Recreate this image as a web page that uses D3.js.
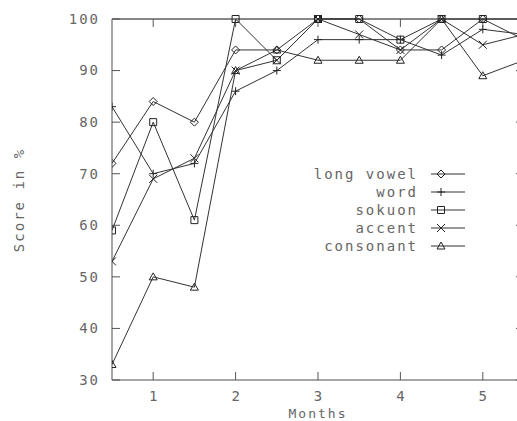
<!DOCTYPE html>
<html lang="en">
<head>
<meta charset="UTF-8">
<title>Score in % by month</title>
<script src="https://d3js.org/d3.v7.min.js"></script>
<style>
  body { margin: 0; background: #fff; }
  svg text { font-family: "DejaVu Sans Mono", monospace; font-size: 14px; fill: #666; letter-spacing: 2px; }
</style>
</head>
<body>
<div id="chart"></div>
<script>
// months (measured every half month)
var months = [0.5, 1, 1.5, 2, 2.5, 3, 3.5, 4, 4.5, 5, 5.5];

// scores per category, in %
var longVowel = [72, 84, 80, 94, 94, 100, 100, 94, 94, 100, 100];
var word      = [83, 70, 72, 86, 90, 96, 96, 96, 93, 98, 97];
var sokuon    = [59, 80, 61, 100, 92, 100, 100, 96, 100, 100, 96];
var accent    = [53, 69, 73, 90, 92, 100, 97, 94, 100, 95, 97];
var consonant = [33, 50, 48, 90, 94, 92, 92, 92, 100, 89, 92];

var seriesNames = ["long vowel", "word", "sokuon", "accent", "consonant"];
var seriesValues = [longVowel, word, sokuon, accent, consonant];
var markerTypes = ["diamond", "plus", "square", "cross", "triangle"];

var xTicks = [1, 2, 3, 4, 5];
var yTicks = [30, 40, 50, 60, 70, 80, 90, 100];

// dimensions (plot runs past the right edge of the window, like the original)
var width = 517, height = 421;
var margin = {top: 19, left: 112, bottom: 41};
var plotRight = 524;

var svg = d3.select("#chart")
  .append("svg")
    .attr("width", width)
    .attr("height", height);

var x = d3.scaleLinear().domain([0.5, 5.5]).range([margin.left, plotRight]);
var y = d3.scaleLinear().domain([30, 100]).range([height - margin.bottom, margin.top]);
var y0 = y(30), y1 = y(100);

svg.append("defs").append("clipPath").attr("id", "plotclip")
  .append("rect")
    .attr("x", margin.left).attr("y", y1 - 6)
    .attr("width", plotRight - margin.left).attr("height", y0 - y1 + 12);

// borders: left & bottom gray, top & right dark
svg.append("line").attr("x1", x(0.5)).attr("x2", plotRight).attr("y1", y1).attr("y2", y1)
  .attr("stroke", "#111").attr("stroke-width", 1);
svg.append("line").attr("x1", plotRight).attr("x2", plotRight).attr("y1", y1).attr("y2", y0)
  .attr("stroke", "#111").attr("stroke-width", 1);
svg.append("line").attr("x1", x(0.5)).attr("x2", x(0.5)).attr("y1", y1).attr("y2", y0)
  .attr("stroke", "#888").attr("stroke-width", 1.5);
svg.append("line").attr("x1", x(0.5)).attr("x2", plotRight).attr("y1", y0).attr("y2", y0)
  .attr("stroke", "#888").attr("stroke-width", 1.5);

// ticks (mirrored on top and right, pointing inward)
var tickLen = 8;
svg.selectAll(".xtick").data(xTicks).enter().append("path")
  .attr("d", function(d) {
    return "M" + x(d) + "," + y0 + "v" + (-tickLen) + "M" + x(d) + "," + y1 + "v" + tickLen;
  })
  .attr("stroke", "#555").attr("stroke-width", 1);
svg.selectAll(".ytick").data(yTicks).enter().append("path")
  .attr("d", function(d) {
    return "M" + x(0.5) + "," + y(d) + "h" + tickLen + "M" + plotRight + "," + y(d) + "h" + (-tickLen);
  })
  .attr("stroke", "#555").attr("stroke-width", 1);

// tick labels
svg.selectAll(".xlab").data(xTicks).enter().append("text")
  .attr("x", function(d) { return x(d) + 1; })
  .attr("y", y0 + 16)
  .attr("dy", "0.35em")
  .attr("text-anchor", "middle")
  .text(function(d) { return d; });
svg.selectAll(".ylab").data(yTicks).enter().append("text")
  .attr("x", 100)
  .attr("y", function(d) { return y(d); })
  .attr("dy", "0.35em")
  .attr("text-anchor", "end")
  .text(function(d) { return d; });

// axis titles
svg.append("text")
  .attr("x", x(3))
  .attr("y", 413)
  .attr("dy", "0.35em")
  .attr("text-anchor", "middle")
  .style("font-size", "13px")
  .text("Months");
svg.append("text")
  .attr("transform", "translate(19," + 200 + ") rotate(-90)")
  .attr("dy", "0.35em")
  .attr("text-anchor", "middle")
  .text("Score in %");

// marker shapes
function markerPath(type, cx, cy) {
  var r = 4;
  if (type === "diamond") return "M" + (cx - r) + "," + cy + "L" + cx + "," + (cy - r) + "L" + (cx + r) + "," + cy + "L" + cx + "," + (cy + r) + "Z";
  if (type === "plus") return "M" + (cx - r) + "," + cy + "h" + 2 * r + "M" + cx + "," + (cy - r) + "v" + 2 * r;
  if (type === "square") return "M" + (cx - 3.5) + "," + (cy - 3.5) + "h7v7h-7Z";
  if (type === "cross") return "M" + (cx - r) + "," + (cy - r) + "l" + 2 * r + "," + 2 * r + "M" + (cx - r) + "," + (cy + r) + "l" + 2 * r + "," + (-2 * r);
  if (type === "triangle") return "M" + (cx - r) + "," + (cy + 3) + "h" + 2 * r + "L" + cx + "," + (cy - 4) + "Z";
}

var line = d3.line()
  .x(function(d, i) { return x(months[i]); })
  .y(function(d) { return y(d); });

var plot = svg.append("g").attr("clip-path", "url(#plotclip)");

seriesValues.forEach(function(vals, s) {
  plot.append("path")
    .attr("d", line(vals))
    .attr("fill", "none")
    .attr("stroke", "#333")
    .attr("stroke-width", 1);
  plot.selectAll(".m" + s).data(vals).enter().append("path")
    .attr("d", function(d, i) { return markerPath(markerTypes[s], x(months[i]), y(d)); })
    .attr("fill", "none")
    .attr("stroke", "#222")
    .attr("stroke-width", 1);
});

// legend
var legend = svg.append("g");
seriesNames.forEach(function(name, s) {
  var ly = 174 + s * 18;
  legend.append("text")
    .attr("x", 418)
    .attr("y", ly)
    .attr("dy", "0.35em")
    .attr("text-anchor", "end")
    .text(name);
  legend.append("line")
    .attr("x1", 431).attr("x2", 465).attr("y1", ly).attr("y2", ly)
    .attr("stroke", "#333").attr("stroke-width", 1);
  legend.append("path")
    .attr("d", markerPath(markerTypes[s], 441, ly))
    .attr("fill", "none").attr("stroke", "#222").attr("stroke-width", 1);
});
</script>
</body>
</html>
